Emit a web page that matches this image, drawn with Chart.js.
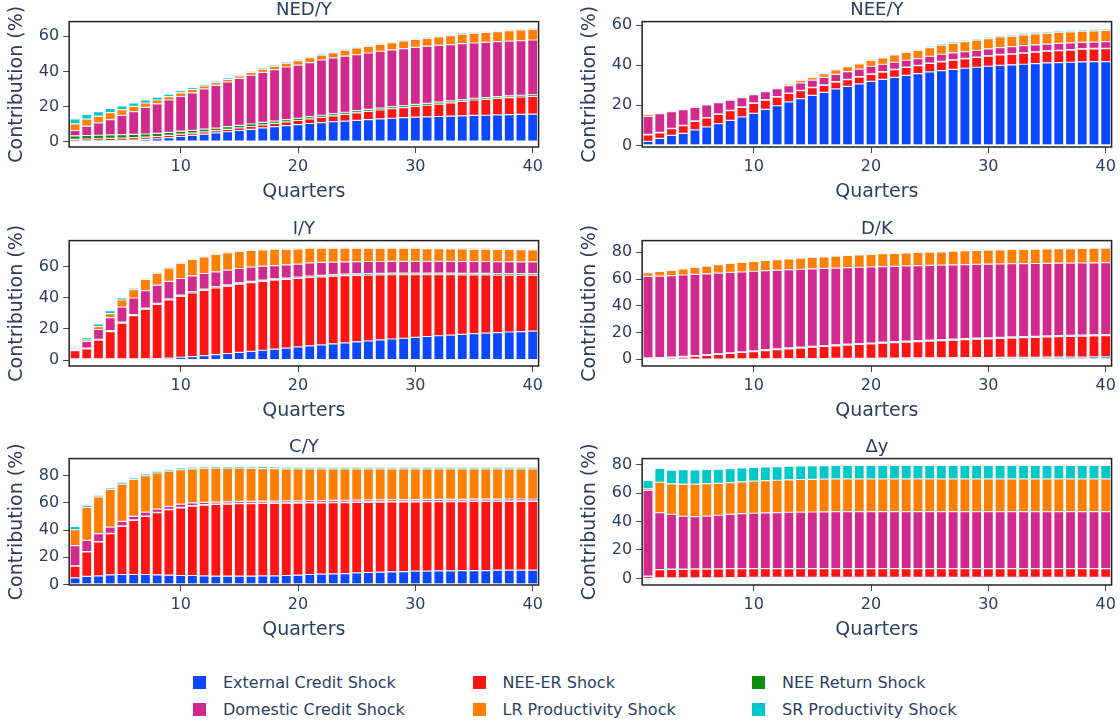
<!DOCTYPE html>
<html>
<head>
<meta charset="utf-8">
<title>Contribution of shocks</title>
<script src="https://cdn.jsdelivr.net/npm/chart.js@4.4.1/dist/chart.umd.min.js"></script>
<style>
  html, body { margin: 0; padding: 0; background: #fff; overflow: hidden; }
  body { width: 1120px; height: 721px; position: relative; font-family: "DejaVu Sans", Verdana, sans-serif; color: #2a3f5f; }
  .panel { position: absolute; }
  .legend-item { position: absolute; height: 20px; display: flex; align-items: center; font-size: 16px; white-space: nowrap; }
  .legend-item span.sw { display: inline-block; width: 13px; height: 13px; margin-right: 17px; }
</style>
</head>
<body>
<script>
// quarters on the x axis
const quarters = [1, 2, 3, 4, 5, 6, 7, 8, 9, 10, 11, 12, 13, 14, 15, 16, 17, 18, 19, 20,
                  21, 22, 23, 24, 25, 26, 27, 28, 29, 30, 31, 32, 33, 34, 35, 36, 37, 38, 39, 40];
const xTicks = [10, 20, 30, 40];
const yTicksTop = [0, 20, 40, 60];
const yTicks80 = [0, 20, 40, 60, 80];

const seriesNames = ['External Credit Shock', 'NEE-ER Shock', 'NEE Return Shock',
                     'Domestic Credit Shock', 'LR Productivity Shock', 'SR Productivity Shock'];
const seriesColors = ['#0a47ff', '#ff1414', '#0b8c0b', '#d12a8c', '#ff8000', '#00c8c8'];

// NED/Y
const nedExternal = [0.3, 0.35, 0.4, 0.5, 0.7, 0.9, 1.2, 1.6, 2.2, 2.9, 3.5, 4.2, 4.9, 5.6, 6.3, 7.0, 7.8, 8.5, 9.1, 9.7, 10.3, 10.8, 11.3, 11.7, 12.1, 12.5, 12.9, 13.3, 13.6, 13.9, 14.1, 14.3, 14.5, 14.7, 14.9, 15.0, 15.2, 15.4, 15.5, 15.6];
const nedNeeEr = [1.0, 1.1, 1.2, 1.3, 1.3, 1.3, 1.3, 1.3, 1.3, 1.3, 1.3, 1.3, 1.3, 1.4, 1.5, 1.6, 1.7, 1.9, 2.1, 2.3, 2.6, 3.0, 3.4, 3.8, 4.3, 4.7, 5.1, 5.5, 5.8, 6.2, 6.6, 7.1, 7.6, 8.2, 8.8, 9.1, 9.4, 9.7, 9.9, 10.1];
const nedNeeRet = [2.0, 2.0, 2.0, 2.0, 1.9, 1.9, 1.8, 1.8, 1.7, 1.7, 1.6, 1.6, 1.5, 1.5, 1.4, 1.4, 1.4, 1.3, 1.3, 1.3, 1.3, 1.2, 1.2, 1.2, 1.2, 1.1, 1.1, 1.1, 1.1, 1.1, 1.1, 1.1, 1.1, 1.0, 1.0, 1.0, 1.0, 1.0, 1.0, 1.0];
const nedDomestic = [3.0, 5.3, 7.0, 8.7, 11.0, 12.9, 15.2, 16.8, 18.5, 19.8, 21.4, 22.9, 24.3, 25.5, 26.8, 27.8, 28.6, 29.3, 30.0, 30.3, 30.8, 31.5, 31.8, 32.0, 31.9, 32.2, 32.4, 32.4, 32.5, 32.5, 32.6, 32.4, 32.1, 31.9, 31.5, 31.5, 31.4, 31.2, 31.2, 31.2];
const nedLr = [3.8, 4.1, 3.9, 4.0, 3.3, 3.1, 2.5, 2.2, 1.9, 2.1, 2.0, 1.7, 1.6, 1.5, 1.5, 1.6, 1.8, 2.0, 2.2, 2.6, 2.8, 2.8, 2.9, 3.4, 3.9, 3.8, 4.0, 4.1, 4.4, 4.5, 4.5, 4.8, 5.1, 5.4, 5.6, 5.6, 5.7, 6.0, 6.1, 6.2];
const nedSr = [2.8, 2.7, 2.6, 2.4, 2.2, 2.0, 1.8, 1.6, 1.4, 1.2, 1.1, 1.0, 0.9, 0.9, 0.8, 0.8, 0.8, 0.8, 0.8, 0.8, 0.8, 0.8, 0.8, 0.7, 0.7, 0.7, 0.7, 0.7, 0.7, 0.7, 0.7, 0.7, 0.7, 0.7, 0.7, 0.7, 0.7, 0.7, 0.7, 0.7];

// NEE/Y
const neeExternal = [2.0, 3.5, 5.0, 6.0, 7.7, 9.2, 10.8, 12.5, 14.2, 16.0, 18.0, 19.8, 21.7, 23.3, 25.0, 26.5, 28.2, 29.5, 30.7, 32.0, 33.0, 34.0, 35.0, 35.8, 36.7, 37.3, 38.0, 38.5, 39.0, 39.5, 40.0, 40.2, 40.5, 40.8, 41.2, 41.3, 41.5, 41.7, 41.8, 41.8];
const neeNeeEr = [3.3, 2.8, 3.3, 3.8, 4.3, 4.5, 4.7, 4.8, 4.8, 5.0, 4.6, 4.3, 4.2, 4.0, 3.8, 3.5, 3.4, 3.3, 3.4, 3.5, 3.6, 3.8, 3.9, 4.0, 4.2, 4.4, 4.5, 4.7, 4.9, 5.0, 5.2, 5.3, 5.5, 5.7, 5.8, 6.0, 6.1, 6.3, 6.4, 6.5];
const neeNeeRet = [0.2, 0.2, 0.2, 0.2, 0.2, 0.2, 0.2, 0.2, 0.2, 0.2, 0.2, 0.2, 0.2, 0.2, 0.2, 0.2, 0.2, 0.2, 0.2, 0.2, 0.2, 0.2, 0.2, 0.2, 0.2, 0.2, 0.2, 0.2, 0.2, 0.2, 0.2, 0.2, 0.2, 0.2, 0.2, 0.2, 0.2, 0.2, 0.2, 0.2];
const neeDomestic = [9.0, 9.3, 8.3, 7.8, 6.8, 6.3, 5.7, 5.1, 4.6, 4.1, 4.0, 4.0, 3.7, 3.7, 3.6, 3.8, 3.7, 3.8, 3.8, 3.8, 3.7, 3.5, 3.4, 3.3, 3.4, 3.6, 3.5, 3.4, 3.4, 3.5, 3.4, 3.6, 3.6, 3.5, 3.4, 3.4, 3.4, 3.2, 3.2, 3.3];
const neeLr = [1.0, 0.5, 0.5, 0.3, 0.3, 0.2, 0.3, 0.4, 0.4, 0.4, 0.6, 0.6, 0.8, 1.2, 1.4, 1.8, 2.2, 2.5, 2.6, 2.9, 3.2, 3.7, 3.9, 4.1, 4.3, 4.5, 4.8, 5.0, 5.1, 5.1, 5.3, 5.2, 5.4, 5.5, 5.4, 5.6, 5.5, 5.6, 5.6, 5.6];
const neeSr = [0.2, 0.2, 0.2, 0.2, 0.2, 0.3, 0.3, 0.3, 0.3, 0.3, 0.4, 0.4, 0.4, 0.4, 0.5, 0.5, 0.5, 0.5, 0.5, 0.6, 0.6, 0.6, 0.6, 0.6, 0.7, 0.7, 0.7, 0.7, 0.7, 0.7, 0.7, 0.8, 0.8, 0.8, 0.8, 0.8, 0.8, 0.8, 0.8, 0.8];

// I/Y
const iyExternal = [0.8, 0.8, 0.8, 0.8, 0.8, 0.8, 0.8, 0.9, 1.2, 1.8, 2.2, 2.8, 3.5, 4.2, 4.9, 5.6, 6.3, 7.0, 7.7, 8.4, 9.1, 9.7, 10.4, 11.0, 11.7, 12.3, 12.9, 13.5, 14.0, 14.6, 15.1, 15.6, 16.0, 16.5, 16.9, 17.3, 17.6, 18.0, 18.3, 18.6];
const iyNeeEr = [5.3, 6.4, 12.0, 17.5, 22.8, 27.7, 31.8, 34.8, 37.3, 39.1, 40.8, 41.9, 42.7, 43.2, 43.8, 44.0, 44.1, 44.3, 44.0, 43.9, 43.9, 43.7, 43.4, 43.1, 42.6, 42.2, 41.7, 41.2, 40.7, 40.1, 39.6, 39.1, 38.7, 38.1, 37.7, 37.3, 36.9, 36.5, 36.1, 35.8];
const iyNeeRet = [0.8, 0.5, 0.5, 0.6, 0.7, 0.7, 0.7, 0.7, 0.7, 0.8, 0.8, 0.8, 0.8, 0.8, 0.8, 0.8, 0.8, 0.8, 0.9, 0.9, 0.9, 0.9, 1.0, 1.0, 1.0, 1.0, 1.0, 1.0, 1.0, 1.0, 1.0, 1.0, 1.0, 1.0, 1.0, 1.0, 1.0, 1.0, 1.0, 1.0];
const iyDomestic = [0.8, 4.2, 6.3, 8.3, 9.7, 10.6, 11.2, 11.6, 11.3, 10.6, 10.2, 10.0, 9.6, 9.5, 9.2, 9.2, 9.0, 8.5, 8.5, 8.3, 8.4, 8.3, 8.0, 7.9, 7.8, 7.7, 7.6, 7.6, 7.6, 7.6, 7.6, 7.6, 7.6, 7.6, 7.6, 7.6, 7.6, 7.6, 7.6, 7.6];
const iyLr = [0.6, 1.0, 1.9, 2.6, 4.5, 5.3, 7.2, 7.7, 8.5, 9.8, 10.5, 10.7, 11.1, 11.1, 10.9, 10.7, 10.5, 10.5, 10.0, 9.7, 9.4, 9.1, 8.9, 8.7, 8.6, 8.5, 8.5, 8.4, 8.4, 8.4, 8.2, 8.1, 8.0, 8.0, 7.9, 7.9, 7.9, 7.8, 7.8, 7.7];
const iySr = [0.6, 1.5, 1.7, 1.9, 1.3, 1.0, 0.9, 0.8, 0.7, 0.7, 0.6, 0.6, 0.6, 0.6, 0.6, 0.6, 0.6, 0.6, 0.6, 0.6, 0.6, 0.6, 0.6, 0.6, 0.6, 0.6, 0.6, 0.6, 0.6, 0.6, 0.7, 0.7, 0.7, 0.7, 0.7, 0.7, 0.7, 0.7, 0.7, 0.7];

// D/K
const dkExternal = [0.2, 0.2, 0.2, 0.2, 0.2, 0.2, 0.2, 0.3, 0.3, 0.3, 0.4, 0.4, 0.5, 0.5, 0.6, 0.6, 0.7, 0.7, 0.8, 0.8, 0.9, 0.9, 1.0, 1.0, 1.1, 1.1, 1.2, 1.2, 1.3, 1.3, 1.4, 1.4, 1.5, 1.5, 1.6, 1.6, 1.7, 1.7, 1.8, 1.8];
const dkNeeEr = [0.3, 0.6, 1.0, 1.5, 2.1, 2.8, 3.5, 4.1, 4.8, 5.5, 6.1, 6.8, 7.3, 7.9, 8.4, 9.0, 9.4, 9.9, 10.3, 10.7, 11.1, 11.5, 11.8, 12.2, 12.5, 12.9, 13.1, 13.5, 13.7, 14.0, 14.2, 14.5, 14.7, 14.9, 15.1, 15.3, 15.4, 15.6, 15.7, 15.9];
const dkNeeRet = [0.5, 0.5, 0.5, 0.5, 0.5, 0.5, 0.5, 0.5, 0.5, 0.5, 0.7, 0.7, 0.7, 0.7, 0.7, 0.7, 0.7, 0.7, 0.7, 0.7, 0.8, 0.8, 0.8, 0.8, 0.8, 0.8, 0.8, 0.8, 0.8, 0.8, 0.8, 0.8, 0.8, 0.8, 0.8, 0.8, 0.8, 0.8, 0.8, 0.8];
const dkDomestic = [61.0, 60.9, 60.8, 60.8, 60.6, 60.4, 60.2, 60.0, 59.7, 59.5, 59.0, 58.7, 58.5, 58.2, 57.9, 57.6, 57.4, 57.2, 57.0, 56.8, 56.5, 56.3, 56.2, 56.0, 55.8, 55.6, 55.5, 55.3, 55.2, 55.0, 54.9, 54.7, 54.5, 54.4, 54.2, 54.1, 54.0, 53.9, 53.8, 53.7];
const dkLr = [2.6, 3.5, 3.9, 4.6, 5.3, 5.8, 6.3, 6.7, 7.1, 7.3, 7.7, 7.8, 8.1, 8.3, 8.5, 8.7, 8.9, 9.1, 9.3, 9.4, 9.6, 9.6, 9.8, 9.8, 9.9, 9.9, 10.2, 10.3, 10.3, 10.5, 10.5, 10.7, 10.7, 10.7, 10.8, 10.8, 10.8, 10.8, 10.9, 10.9];
const dkSr = [0.7, 0.4, 0.4, 0.4, 0.4, 0.4, 0.4, 0.4, 0.4, 0.4, 0.4, 0.4, 0.4, 0.4, 0.4, 0.4, 0.4, 0.4, 0.4, 0.4, 0.4, 0.4, 0.4, 0.4, 0.4, 0.4, 0.4, 0.4, 0.4, 0.4, 0.4, 0.4, 0.4, 0.4, 0.4, 0.4, 0.4, 0.4, 0.4, 0.4];

// C/Y
const cyExternal = [4.9, 5.9, 6.3, 7.1, 7.3, 7.3, 7.3, 7.1, 6.8, 6.6, 6.6, 6.3, 6.1, 6.1, 6.1, 6.1, 6.3, 6.3, 6.6, 6.8, 7.3, 7.6, 7.8, 8.0, 8.5, 8.8, 9.0, 9.3, 9.5, 9.8, 9.8, 10.0, 10.0, 10.2, 10.2, 10.2, 10.5, 10.5, 10.5, 10.5];
const cyNeeEr = [8.5, 18.0, 24.9, 30.2, 35.4, 39.8, 42.7, 45.6, 48.1, 49.7, 51.0, 52.0, 52.7, 52.9, 53.2, 53.3, 53.2, 53.3, 53.1, 53.0, 52.6, 52.4, 52.3, 52.2, 51.8, 51.6, 51.5, 51.3, 51.2, 50.9, 51.0, 50.8, 50.9, 50.7, 50.8, 50.8, 50.5, 50.6, 50.6, 50.6];
const cyNeeRet = [0.3, 0.3, 0.3, 0.3, 0.3, 0.3, 0.3, 0.3, 0.3, 0.3, 0.3, 0.3, 0.3, 0.3, 0.3, 0.3, 0.3, 0.3, 0.3, 0.3, 0.3, 0.3, 0.3, 0.3, 0.3, 0.3, 0.3, 0.3, 0.3, 0.3, 0.3, 0.3, 0.3, 0.3, 0.3, 0.3, 0.3, 0.3, 0.3, 0.3];
const cyDomestic = [14.8, 8.2, 5.8, 4.6, 3.3, 2.6, 2.9, 2.4, 2.1, 2.4, 2.1, 1.8, 1.4, 1.4, 1.4, 1.4, 1.4, 1.4, 1.4, 1.4, 1.4, 1.4, 1.4, 1.4, 1.4, 1.4, 1.4, 1.4, 1.4, 1.4, 1.4, 1.4, 1.4, 1.4, 1.4, 1.4, 1.4, 1.4, 1.4, 1.4];
const cyLr = [11.7, 24.2, 27.0, 27.7, 27.5, 27.2, 26.7, 26.5, 26.0, 25.3, 25.0, 24.9, 25.0, 24.8, 24.5, 24.2, 24.0, 23.8, 23.6, 23.4, 23.3, 23.2, 23.1, 23.0, 22.9, 22.8, 22.7, 22.6, 22.5, 22.5, 22.4, 22.4, 22.3, 22.3, 22.2, 22.2, 22.2, 22.1, 22.1, 22.1];
const cySr = [2.5, 1.7, 1.3, 1.3, 1.3, 1.3, 1.3, 1.3, 1.3, 1.3, 1.3, 1.3, 1.3, 1.3, 1.3, 1.3, 1.3, 1.3, 1.3, 1.3, 1.3, 1.3, 1.3, 1.3, 1.3, 1.3, 1.3, 1.3, 1.3, 1.3, 1.3, 1.3, 1.3, 1.3, 1.3, 1.3, 1.3, 1.3, 1.3, 1.3];

// Δy
const dyExternal = [0.1, 0.4, 0.4, 0.4, 0.4, 0.4, 0.4, 0.6, 0.6, 0.7, 0.7, 0.8, 0.8, 0.8, 0.8, 0.8, 0.8, 0.8, 0.8, 0.8, 0.8, 0.8, 0.8, 0.8, 0.8, 0.8, 0.8, 0.8, 0.8, 0.8, 0.8, 0.8, 0.8, 0.8, 0.8, 0.8, 0.8, 0.8, 0.8, 0.8];
const dyNeeEr = [1.4, 5.7, 6.0, 6.0, 6.2, 6.2, 6.3, 6.2, 6.3, 6.2, 6.2, 6.1, 6.1, 6.1, 6.1, 6.1, 6.1, 6.1, 6.1, 6.1, 6.1, 6.1, 6.1, 6.1, 6.1, 6.1, 6.1, 6.1, 6.1, 6.1, 6.1, 6.1, 6.1, 6.1, 6.1, 6.1, 6.1, 6.1, 6.1, 6.1];
const dyNeeRet = [0.1, 0.1, 0.1, 0.1, 0.1, 0.1, 0.1, 0.1, 0.1, 0.1, 0.1, 0.1, 0.1, 0.1, 0.1, 0.1, 0.1, 0.1, 0.1, 0.1, 0.1, 0.1, 0.1, 0.1, 0.1, 0.1, 0.1, 0.1, 0.1, 0.1, 0.1, 0.1, 0.1, 0.1, 0.1, 0.1, 0.1, 0.1, 0.1, 0.1];
const dyDomestic = [60.2, 40.0, 38.6, 37.2, 36.7, 37.1, 37.6, 38.1, 38.5, 38.8, 39.1, 39.3, 39.5, 39.6, 39.7, 39.8, 39.9, 39.9, 39.9, 39.9, 39.9, 39.9, 39.9, 39.9, 39.9, 39.9, 39.9, 39.9, 39.9, 39.9, 39.9, 39.9, 39.9, 39.9, 39.9, 39.9, 39.9, 39.9, 39.9, 39.9];
const dyLr = [1.2, 21.4, 21.4, 22.5, 22.9, 22.8, 22.4, 22.3, 22.4, 22.6, 22.6, 22.7, 22.8, 22.9, 22.9, 23.0, 23.0, 23.0, 23.0, 23.0, 23.0, 23.0, 23.0, 23.0, 23.0, 23.0, 23.0, 23.0, 23.0, 23.0, 23.0, 23.0, 23.0, 23.0, 23.0, 23.0, 23.0, 23.0, 23.0, 23.0];
const dySr = [5.9, 9.7, 9.5, 10.2, 10.0, 10.0, 10.0, 9.9, 9.8, 9.6, 9.6, 9.6, 9.6, 9.6, 9.6, 9.5, 9.5, 9.5, 9.5, 9.5, 9.5, 9.5, 9.5, 9.5, 9.5, 9.5, 9.5, 9.5, 9.5, 9.5, 9.5, 9.5, 9.5, 9.5, 9.5, 9.5, 9.5, 9.5, 9.5, 9.5];

const textColor = '#2a3f5f';
const fontFamily = '"DejaVu Sans", Verdana, sans-serif';

// box = wanted plot area [left, top, right, bottom] in page pixels
const panels = [
  { title: 'NED/Y', series: [nedExternal, nedNeeEr, nedNeeRet, nedDomestic, nedLr, nedSr], yTicks: yTicksTop, yMin: -3.1, yMax: 68.4, box: [69, 22, 539, 147] },
  { title: 'NEE/Y', series: [neeExternal, neeNeeEr, neeNeeRet, neeDomestic, neeLr, neeSr], yTicks: yTicksTop, yMin: -0.8, yMax: 61.8, box: [642, 22, 1112, 147] },
  { title: 'I/Y', series: [iyExternal, iyNeeEr, iyNeeRet, iyDomestic, iyLr, iySr], yTicks: yTicksTop, yMin: -3.8, yMax: 76.6, box: [69, 241, 539, 366] },
  { title: 'D/K', series: [dkExternal, dkNeeEr, dkNeeRet, dkDomestic, dkLr, dkSr], yTicks: yTicks80, yMin: -5.0, yMax: 88.7, box: [642, 241, 1112, 366] },
  { title: 'C/Y', series: [cyExternal, cyNeeEr, cyNeeRet, cyDomestic, cyLr, cySr], yTicks: yTicks80, yMin: -0.4, yMax: 92.5, box: [69, 459, 539, 585] },
  { title: 'Δy', series: [dyExternal, dyNeeEr, dyNeeRet, dyDomestic, dyLr, dySr], yTicks: yTicks80, yMin: -4.6, yMax: 84.2, box: [642, 459, 1112, 585] }
];

// box round the plot area
const framePlugin = {
  id: 'frame',
  afterDraw(chart) {
    const { ctx, chartArea: a } = chart;
    ctx.save();
    ctx.strokeStyle = '#222';
    ctx.lineWidth = 1.5;
    ctx.strokeRect(a.left, a.top, a.right - a.left, a.bottom - a.top);
    ctx.restore();
  }
};

function buildConfig(p) {
  return {
    type: 'bar',
    data: {
      labels: quarters,
      datasets: p.series.map((vals, i) => ({
        label: seriesNames[i],
        data: vals,
        backgroundColor: seriesColors[i],
        borderColor: '#e3ecf7',
        borderWidth: 0.6,
        borderSkipped: false,
        barPercentage: 0.85,
        categoryPercentage: 1
      }))
    },
    options: {
      responsive: false,
      maintainAspectRatio: false,
      animation: false,
      layout: { padding: 0 },
      plugins: { legend: { display: false }, tooltip: { enabled: false } },
      scales: {
        x: {
          type: 'linear', min: 0.5, max: 40.5, stacked: true, offset: false,
          afterBuildTicks: s => { s.ticks = xTicks.map(v => ({ value: v })); },
          grid: { offset: false, drawOnChartArea: false, tickLength: 6, tickColor: '#444' },
          border: { display: false },
          ticks: { color: textColor, font: { family: fontFamily, size: 16 }, padding: 4, maxRotation: 0, autoSkip: false },
          title: { display: true, text: 'Quarters', color: textColor, font: { family: fontFamily, size: 19 }, padding: { top: 0, bottom: 0 } }
        },
        xTop: {
          type: 'linear', position: 'top', min: 0.5, max: 40.5, offset: false,
          grid: { display: false, drawTicks: false },
          border: { display: false },
          ticks: { display: false },
          title: { display: true, text: p.title, color: textColor, font: { family: fontFamily, size: 18 }, padding: { top: 0, bottom: 0 } }
        },
        y: {
          stacked: true, min: p.yMin, max: p.yMax,
          afterBuildTicks: s => { s.ticks = p.yTicks.map(v => ({ value: v })); },
          grid: { drawOnChartArea: false, tickLength: 6, tickColor: '#444' },
          border: { display: false },
          ticks: { color: textColor, font: { family: fontFamily, size: 16 }, padding: 4 },
          title: { display: true, text: 'Contribution (%)', color: textColor, font: { family: fontFamily, size: 19 }, padding: { top: 2, bottom: 6 } }
        }
      }
    },
    plugins: [framePlugin]
  };
}

function makePanel(p) {
  const [l, t, r, b] = p.box;
  const wrap = document.createElement('div');
  wrap.className = 'panel';
  document.body.appendChild(wrap);

  // first pass: measure how much room the axes take
  let w = (r - l) + 90, h = (b - t) + 90;
  let canvas = document.createElement('canvas');
  canvas.width = w; canvas.height = h;
  wrap.appendChild(canvas);
  let chart = new Chart(canvas, buildConfig(p));
  const a = chart.chartArea;
  w += (r - l) - (a.right - a.left);
  h += (b - t) - (a.bottom - a.top);
  chart.destroy();
  wrap.removeChild(canvas);

  // second pass with the corrected size, then place it
  canvas = document.createElement('canvas');
  canvas.width = Math.round(w); canvas.height = Math.round(h);
  wrap.appendChild(canvas);
  chart = new Chart(canvas, buildConfig(p));
  const a2 = chart.chartArea;
  wrap.style.left = (l - a2.left) + 'px';
  wrap.style.top = (t - a2.top) + 'px';
}

panels.forEach(makePanel);

// legend, two rows of three
const legendCols = [193, 472.5, 752];
const legendRows = [682.5, 709.5];
seriesNames.forEach((name, i) => {
  const item = document.createElement('div');
  item.className = 'legend-item';
  item.style.left = legendCols[i % 3] + 'px';
  item.style.top = (legendRows[Math.floor(i / 3)] - 10) + 'px';
  const sw = document.createElement('span');
  sw.className = 'sw';
  sw.style.background = seriesColors[i];
  item.appendChild(sw);
  item.appendChild(document.createTextNode(name));
  document.body.appendChild(item);
});
</script>
</body>
</html>
